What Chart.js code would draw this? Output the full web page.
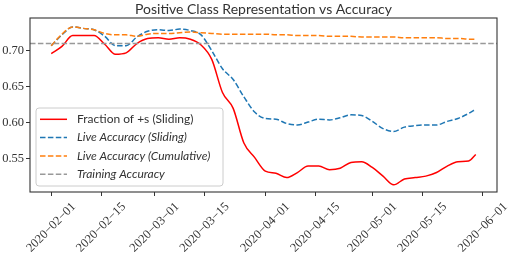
<!DOCTYPE html>
<html>
<head>
<meta charset="utf-8">
<script src="https://cdn.jsdelivr.net/npm/chart.js@4.4.1/dist/chart.umd.min.js"></script>
<style>
  html, body { margin: 0; padding: 0; background: #fff; }
  #wrap { width: 510px; height: 256px; }
</style>
</head>
<body>
<div id="wrap"><canvas id="chart" width="510" height="256"></canvas></div>
<script>
// sample dates (every 3 days)
const dates = [
  '2020-02-01', '2020-02-04', '2020-02-07', '2020-02-10', '2020-02-13', '2020-02-16', '2020-02-19',
  '2020-02-22', '2020-02-25', '2020-02-28', '2020-03-02', '2020-03-05', '2020-03-08', '2020-03-11',
  '2020-03-14', '2020-03-17', '2020-03-20', '2020-03-23', '2020-03-26', '2020-03-29', '2020-04-01',
  '2020-04-04', '2020-04-07', '2020-04-10', '2020-04-13', '2020-04-16', '2020-04-19', '2020-04-22',
  '2020-04-25', '2020-04-28', '2020-05-01', '2020-05-04', '2020-05-07', '2020-05-10', '2020-05-13',
  '2020-05-16', '2020-05-19', '2020-05-22', '2020-05-25', '2020-05-28', '2020-05-30'
];

const fractionSliding = [
  0.696, 0.706, 0.721, 0.721, 0.721, 0.709, 0.695, 0.697, 0.710, 0.717, 0.718, 0.716, 0.718, 0.716,
  0.708, 0.688, 0.642, 0.620, 0.572, 0.552, 0.533, 0.530, 0.524, 0.531, 0.540, 0.540, 0.535, 0.537,
  0.545, 0.546, 0.538, 0.526, 0.514, 0.522, 0.524, 0.526, 0.531, 0.540, 0.546, 0.547, 0.556
];

const accSliding = [
  0.707, 0.722, 0.733, 0.731, 0.729, 0.720, 0.707, 0.707, 0.719, 0.727, 0.729, 0.728, 0.730, 0.728,
  0.722, 0.700, 0.675, 0.660, 0.636, 0.615, 0.606, 0.605, 0.599, 0.597, 0.601, 0.605, 0.604, 0.607,
  0.611, 0.610, 0.602, 0.592, 0.588, 0.594, 0.596, 0.597, 0.597, 0.602, 0.606, 0.613, 0.619
];

const accCumulative = [
  0.707, 0.723, 0.733, 0.731, 0.729, 0.724, 0.722, 0.722, 0.720, 0.723, 0.724, 0.724, 0.725, 0.726,
  0.725, 0.724, 0.723, 0.723, 0.723, 0.723, 0.723, 0.722, 0.722, 0.721, 0.721, 0.721, 0.720, 0.720,
  0.720, 0.719, 0.719, 0.719, 0.719, 0.718, 0.718, 0.718, 0.718, 0.717, 0.717, 0.716, 0.716
];

const trainingAccuracy = 0.710;

const xTickDates = ['2020-02-01', '2020-02-15', '2020-03-01', '2020-03-15', '2020-04-01',
                    '2020-04-15', '2020-05-01', '2020-05-15', '2020-06-01'];
const yTicks = [0.55, 0.60, 0.65, 0.70];

// days since the first date
const DAY = 86400000;
const t0 = Date.parse(dates[0]);
function toDay(s) {
  return (Date.parse(s) - t0) / DAY;
}

const days = dates.map(toDay);
const span = days[days.length - 1] - days[0];
const xMin = days[0] - span * 0.05;
const xMax = days[days.length - 1] + span * 0.05;

function pairs(values) {
  return values.map((v, i) => ({ x: days[i], y: v }));
}

const series = [
  { label: 'Fraction of +s (Sliding)', color: '#ff0000', dash: [], italic: false },
  { label: 'Live Accuracy (Sliding)', color: '#1f77b4', dash: [5.5, 2.4], italic: true },
  { label: 'Live Accuracy (Cumulative)', color: '#ff7f0e', dash: [5.5, 2.4], italic: true },
  { label: 'Training Accuracy', color: '#999999', dash: [5.5, 2.4], italic: true }
];

// frame, title, rotated date labels and legend
const decor = {
  id: 'decor',
  afterDraw(chart) {
    const ctx = chart.ctx;
    const a = chart.chartArea;
    ctx.save();
    ctx.strokeStyle = '#333333';
    ctx.lineWidth = 1.1;
    ctx.strokeRect(a.left, a.top, a.right - a.left, a.bottom - a.top);

    ctx.fillStyle = '#333';
    ctx.font = '14px Lato';
    ctx.textAlign = 'center';
    ctx.textBaseline = 'middle';
    ctx.fillText('Positive Class Representation vs Accuracy', (a.left + a.right) / 2, 9);

    // date labels, rotated 45 degrees and centred under each tick
    const xs = chart.scales.x;
    ctx.fillStyle = '#333';
    ctx.font = '12.5px "Liberation Serif"';
    xTickDates.forEach(s => {
      const px = xs.getPixelForValue(toDay(s));
      ctx.save();
      ctx.translate(px, a.bottom + 35.5);
      ctx.rotate(-Math.PI / 4);
      ctx.fillText(s.replace(/-/g, '\u2212'), 0, 0);
      ctx.restore();
    });

    // legend box
    const lx = a.left + 6, ly = a.top + 90, lw = 187, lh = 78;
    ctx.beginPath();
    ctx.roundRect(lx, ly, lw, lh, 3);
    ctx.fillStyle = 'rgba(255,255,255,0.8)';
    ctx.fill();
    ctx.strokeStyle = '#cccccc';
    ctx.lineWidth = 1;
    ctx.stroke();

    ctx.textAlign = 'left';
    series.forEach((s, i) => {
      const y = ly + 11.3 + i * 18.3;
      ctx.beginPath();
      ctx.setLineDash(s.dash);
      ctx.strokeStyle = s.color;
      ctx.lineWidth = 1.5;
      ctx.moveTo(lx + 4, y);
      ctx.lineTo(lx + 31, y);
      ctx.stroke();
      ctx.setLineDash([]);
      ctx.fillStyle = '#333';
      ctx.font = (s.italic ? 'italic ' : '') + '12px Lato';
      ctx.fillText(s.label, lx + 41, y);
    });
    ctx.restore();
  }
};

const ctx = document.getElementById('chart').getContext('2d');
const chart = new Chart(ctx, {
  type: 'line',
  data: {
    datasets: [
      {
        label: series[0].label,
        data: pairs(fractionSliding),
        borderColor: series[0].color,
        borderWidth: 1.5,
        order: 4
      },
      {
        label: series[1].label,
        data: pairs(accSliding),
        borderColor: series[1].color,
        borderDash: series[1].dash,
        borderWidth: 1.5,
        order: 3
      },
      {
        label: series[2].label,
        data: pairs(accCumulative),
        borderColor: series[2].color,
        borderDash: series[2].dash,
        borderWidth: 1.5,
        order: 2
      },
      {
        label: series[3].label,
        data: [{ x: xMin, y: trainingAccuracy }, { x: xMax, y: trainingAccuracy }],
        borderColor: series[3].color,
        borderDash: series[3].dash,
        borderWidth: 1.5,
        order: 1
      }
    ]
  },
  options: {
    responsive: false,
    animation: false,
    events: [],
    layout: { padding: { top: 18, right: 13, left: 0, bottom: 0 } },
    elements: {
      point: { radius: 0 },
      line: { cubicInterpolationMode: 'monotone', fill: false }
    },
    plugins: {
      legend: { display: false },
      title: { display: false },
      tooltip: { enabled: false }
    },
    scales: {
      x: {
        type: 'linear',
        min: xMin,
        max: xMax,
        border: { display: false },
        grid: { drawOnChartArea: false, tickLength: 4, color: '#333', tickWidth: 1 },
        afterFit(scale) { scale.height = 64; },
        afterBuildTicks(scale) {
          scale.ticks = xTickDates.map(s => ({ value: toDay(s) }));
        },
        ticks: { display: false, autoSkip: false }
      },
      y: {
        min: 0.504,
        max: 0.7454,
        border: { display: false },
        grid: { drawOnChartArea: false, tickLength: 4, color: '#333', tickWidth: 1 },
        afterFit(scale) { scale.width = 30; },
        afterBuildTicks(scale) {
          scale.ticks = yTicks.map(v => ({ value: v }));
        },
        ticks: {
          padding: 2,
          color: '#333',
          font: { family: 'Liberation Serif', size: 12.5 },
          callback: v => v.toFixed(2)
        }
      }
    }
  },
  plugins: [decor]
});
</script>
</body>
</html>
